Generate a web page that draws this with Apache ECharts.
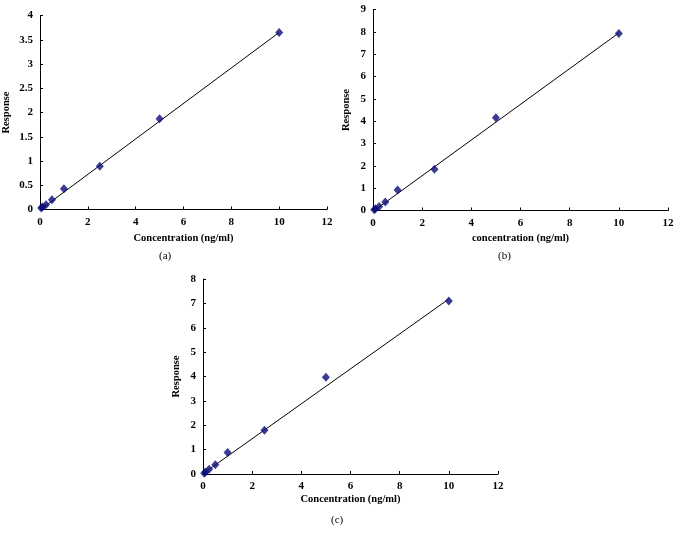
<!DOCTYPE html>
<html><head><meta charset="utf-8">
<script src="https://cdn.jsdelivr.net/npm/echarts@6/dist/echarts.min.js"></script>
<style>html,body{margin:0;padding:0;background:#fff}#c{width:681px;height:543px}</style>
</head><body><div id="c"></div>
<script>
const conc = [0.05, 0.1, 0.25, 0.5, 1, 2.5, 5, 10];
const respA = [0.03, 0.05, 0.1, 0.2, 0.43, 0.89, 1.87, 3.65];
const respB = [0.03, 0.08, 0.18, 0.38, 0.92, 1.85, 4.15, 7.92];
const respC = [0.03, 0.08, 0.2, 0.38, 0.88, 1.8, 3.97, 7.1];
const fitA = [[0.05, 0.01], [10, 3.65]];
const fitB = [[0.05, 0.0], [10, 7.95]];
const fitC = [[0.05, 0.05], [10, 7.18]];
const xNames = ['Concentration (ng/ml)', 'concentration (ng/ml)', 'Concentration (ng/ml)'];
const yMax = [4, 9, 8];
const yStep = [0.5, 1, 1];
const panelLabels = ['(a)', '(b)', '(c)'];

const FONT = 'Liberation Serif';
const grids = [
  {left: 40, top: 15.5, width: 287, height: 194},
  {left: 373, top: 9.5, width: 295, height: 201},
  {left: 203, top: 279, width: 295, height: 195}
];
const yGaps = [28, 21, 21];
const xGaps = [23, 22, 20];
const dataSets = [respA, respB, respC];
const fits = [fitA, fitB, fitC];

const option = {
  backgroundColor: '#fff',
  animation: false,
  grid: grids,
  xAxis: grids.map((g, i) => ({
    type: 'value', gridIndex: i, min: 0, max: 12, interval: 2,
    name: xNames[i], nameLocation: 'middle', nameGap: xGaps[i],
    nameTextStyle: {fontFamily: FONT, fontWeight: 'bold', fontSize: 10.5, color: '#000'},
    axisLine: {show: true, lineStyle: {color: '#000', width: 1}},
    axisTick: {show: true, inside: true, length: 3, lineStyle: {color: '#000'}},
    axisLabel: {fontFamily: FONT, fontWeight: 'bold', fontSize: 11, color: '#000', margin: 7},
    splitLine: {show: false}
  })),
  yAxis: grids.map((g, i) => ({
    type: 'value', gridIndex: i, min: 0, max: yMax[i], interval: yStep[i],
    name: 'Response', nameLocation: 'middle', nameGap: yGaps[i], nameRotate: 90,
    nameTextStyle: {fontFamily: FONT, fontWeight: 'bold', fontSize: 10.5, color: '#000'},
    axisLine: {show: true, lineStyle: {color: '#000', width: 1}},
    axisTick: {show: true, inside: true, length: 3, lineStyle: {color: '#000'}},
    axisLabel: {fontFamily: FONT, fontWeight: 'bold', fontSize: 11, color: '#000', margin: 7},
    splitLine: {show: false}
  })),
  series: [].concat(...grids.map((g, i) => [
    {
      type: 'line', xAxisIndex: i, yAxisIndex: i, data: fits[i],
      symbol: 'none', lineStyle: {color: '#000', width: 1}, z: 2
    },
    {
      type: 'scatter', xAxisIndex: i, yAxisIndex: i,
      data: conc.map((x, k) => [x, dataSets[i][k]]),
      symbol: 'diamond', symbolSize: [8, 9],
      itemStyle: {color: '#0a0a78'}, z: 3
    }
  ])),
  graphic: [
    {type: 'text', left: 159, top: 251, style: {text: panelLabels[0], font: '11px "Liberation Serif"', fill: '#000'}},
    {type: 'text', left: 498, top: 251, style: {text: panelLabels[1], font: '11px "Liberation Serif"', fill: '#000'}},
    {type: 'text', left: 331, top: 515, style: {text: panelLabels[2], font: '11px "Liberation Serif"', fill: '#000'}}
  ]
};
echarts.init(document.getElementById('c')).setOption(option);
</script></body></html>
